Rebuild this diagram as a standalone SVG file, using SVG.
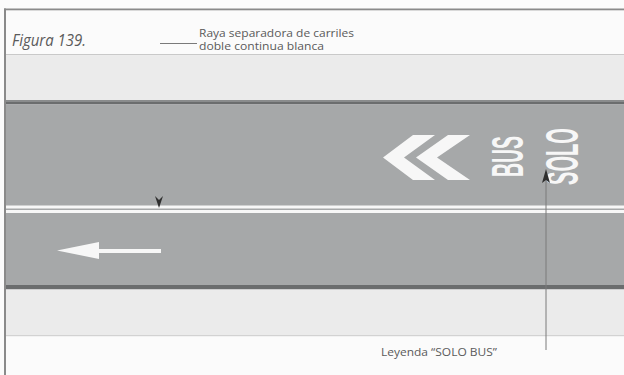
<svg xmlns="http://www.w3.org/2000/svg" width="624" height="375" viewBox="0 0 624 375">
  <style>
    .lbl { font-family: "Open Sans", "Liberation Sans", Arial, sans-serif; fill: #5a5a5a; }
    .road-txt { font-family: "Liberation Sans", Arial, sans-serif; font-weight: bold; fill: #f7f7f7; }
    .mark { fill: #f7f7f7; }
    .leader { stroke: #7a7a7a; stroke-width: 1; fill: none; }
    .tip { fill: #2f2f2f; }
  </style>
  <rect x="0" y="0" width="624" height="375" fill="#fbfbfb"/>
  <g id="frame">
    <rect x="4" y="8.5" width="620" height="1.8" fill="#8a8a8a"/>
    <rect x="4" y="8.5" width="2" height="366.5" fill="#8a8a8a"/>
  </g>
  <g id="road">
    <rect x="6" y="54" width="618" height="1.2" fill="#c9c9c9"/>
    <rect x="6" y="55.2" width="618" height="45" fill="#ebebeb"/>
    <rect x="6" y="100" width="618" height="2" fill="#8a8c8d"/>
    <rect x="6" y="102" width="618" height="2.5" fill="#6b6d6e"/>
    <rect x="6" y="104.5" width="618" height="180.5" fill="#a6a8a9"/>
    <rect x="6" y="285" width="618" height="4.5" fill="#6b6d6e"/>
    <rect x="6" y="289.5" width="618" height="45.5" fill="#ebebeb"/>
    <rect x="6" y="335" width="618" height="1.2" fill="#d2d2d2"/>
  </g>
  <g id="markings">
    <rect class="mark" x="6" y="205.5" width="618" height="3"/>
    <rect class="mark" x="6" y="210" width="618" height="3"/>
    <polygon class="mark" points="57,250.5 99,242 99,249 161,249 161,253 99,253 99,259"/>
    <polygon class="mark" points="383,157.5 413,135 435,135 404,157.5 435,180 413,180"/>
    <polygon class="mark" points="416,157.5 448,135 470,135 437,157.5 470,180 448,180"/>
    <text class="road-txt" transform="translate(523,177) rotate(-90)" font-size="45" textLength="41" lengthAdjust="spacingAndGlyphs">BUS</text>
    <text class="road-txt" transform="translate(578,185) rotate(-90)" font-size="47" textLength="57" lengthAdjust="spacingAndGlyphs">SOLO</text>
  </g>
  <g id="labels">
    <g id="title">
      <text class="lbl" x="12" y="46" font-size="17" font-style="italic" textLength="74" lengthAdjust="spacingAndGlyphs">Figura 139.</text>
    </g>
    <g id="label-raya">
      <text class="lbl" x="199" y="36.5" font-size="11" textLength="155" lengthAdjust="spacingAndGlyphs">Raya separadora de carriles</text>
      <text class="lbl" x="199" y="50" font-size="11" textLength="125" lengthAdjust="spacingAndGlyphs">doble continua blanca</text>
    </g>
    <g id="label-leyenda">
      <text class="lbl" x="381" y="356" font-size="11.5" textLength="116" lengthAdjust="spacingAndGlyphs">Leyenda “SOLO BUS”</text>
    </g>
  </g>
  <g id="connectors">
    <line class="leader" x1="160" y1="43.5" x2="197" y2="43.5"/>
    <polygon class="tip" points="155,196 159,200 163,196 159,208"/>
    <line class="leader" x1="546" y1="180" x2="546" y2="350"/>
    <polygon class="tip" points="546,169 550,183 546,180 542,183"/>
  </g>
</svg>
